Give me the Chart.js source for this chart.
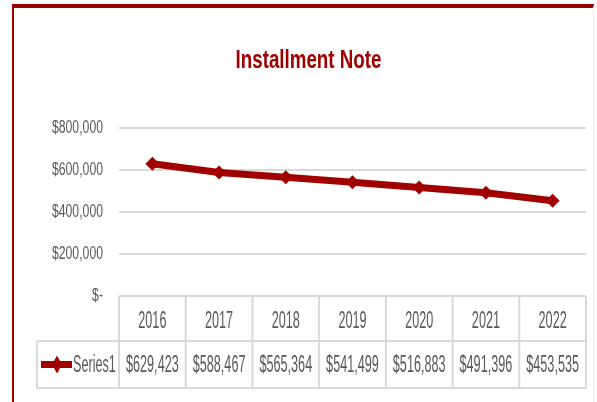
<!DOCTYPE html>
<html>
<head>
<meta charset="utf-8">
<script src="https://cdn.jsdelivr.net/npm/chart.js@4.4.1/dist/chart.umd.min.js"></script>
<style>
  html, body { margin: 0; padding: 0; background: #fff; }
  #wrap { position: relative; width: 597px; height: 402px; overflow: hidden; }
  #frame {
    position: absolute; left: 12px; top: 4px; width: 582px; height: 400px;
    border-top: 4px solid #9b0000; border-left: 2px solid #a00000;
    border-right: 1px solid #eeeeee;
    box-sizing: border-box; pointer-events: none;
  }
  canvas { position: absolute; left: 0; top: 0; }
</style>
</head>
<body>
<div id="wrap">
  <canvas id="noteChart" width="597" height="402"></canvas>
  <div id="frame"></div>
</div>
<script>
const years = ['2016', '2017', '2018', '2019', '2020', '2021', '2022'];
const balances = [629423, 588467, 565364, 541499, 516883, 491396, 453535];
const seriesName = 'Series1';
const yTicks = [0, 200000, 400000, 600000, 800000];
const chartTitle = 'Installment Note';

const RED = '#a00000';
const GREY_TEXT = '#595959';
const GRID = '#d9d9d9';
const FONT = '"Liberation Sans", Arial, sans-serif';

const money = v => v === 0 ? '$-' : '$' + v.toLocaleString('en-US');

// narrow text: Liberation Sans squeezed horizontally
function narrowText(ctx, text, x, y, sx, align) {
    ctx.save();
    ctx.translate(x, y);
    ctx.scale(sx, 1);
    ctx.textAlign = align;
    ctx.fillText(text, 0, 0);
    ctx.restore();
}

// title, y labels and the data table under the plot
const dataTable = {
    id: 'dataTable',
    afterDraw(chart) {
        const { ctx, chartArea, scales: { x, y } } = chart;
        const colW = x.getPixelForValue(1) - x.getPixelForValue(0);
        const top = chartArea.bottom;
        const mid = top + 45;
        const bottom = top + 92;
        const tableLeft = 37;

        ctx.save();
        ctx.textBaseline = 'alphabetic';

        // title
        ctx.fillStyle = RED;
        ctx.font = 'bold 25px ' + FONT;
        narrowText(ctx, chartTitle, (chartArea.left + chartArea.right) / 2 - 44, 68, 0.75, 'center');

        // y labels
        ctx.fillStyle = GREY_TEXT;
        ctx.font = '18px ' + FONT;
        y.ticks.forEach(t => {
            narrowText(ctx, money(t.value), 103, y.getPixelForValue(t.value) + 5, 0.68, 'right');
        });

        // grid of the table
        ctx.strokeStyle = GRID;
        ctx.lineWidth = 2;
        ctx.beginPath();
        ctx.moveTo(chartArea.left, top); ctx.lineTo(chartArea.right, top);
        ctx.moveTo(tableLeft, mid); ctx.lineTo(chartArea.right, mid);
        ctx.moveTo(tableLeft, bottom); ctx.lineTo(chartArea.right, bottom);
        ctx.moveTo(tableLeft, mid); ctx.lineTo(tableLeft, bottom);
        for (let i = 0; i <= years.length; i++) {
            const cx = x.getPixelForValue(0) - colW / 2 + i * colW;
            ctx.moveTo(cx, top); ctx.lineTo(cx, bottom);
        }
        ctx.stroke();

        ctx.fillStyle = GREY_TEXT;
        ctx.font = '23px ' + FONT;
        years.forEach((yr, i) => {
            const cx = x.getPixelForValue(i);
            narrowText(ctx, yr, cx, top + 32, 0.55, 'center');
            narrowText(ctx, money(balances[i]), cx, mid + 31, 0.55, 'center');
        });

        // legend key: line with diamond marker
        const ky = (mid + bottom) / 2;
        ctx.strokeStyle = RED;
        ctx.lineWidth = 7;
        ctx.beginPath();
        ctx.moveTo(41, ky); ctx.lineTo(72, ky);
        ctx.stroke();
        ctx.fillStyle = RED;
        ctx.beginPath();
        ctx.moveTo(57, ky - 9); ctx.lineTo(62, ky); ctx.lineTo(57, ky + 9); ctx.lineTo(52, ky);
        ctx.closePath();
        ctx.fill();

        ctx.fillStyle = GREY_TEXT;
        narrowText(ctx, seriesName, 73, mid + 31, 0.55, 'left');
        ctx.restore();
    }
};

new Chart(document.getElementById('noteChart'), {
    type: 'line',
    data: {
        labels: years,
        datasets: [{
            label: seriesName,
            data: balances,
            borderColor: RED,
            backgroundColor: RED,
            borderWidth: 7,
            pointStyle: 'rectRot',
            pointRadius: 7,
            pointBorderWidth: 0,
            tension: 0
        }]
    },
    options: {
        responsive: false,
        animation: false,
        layout: { padding: { left: 0, right: 11, top: 128, bottom: 106 } },
        plugins: {
            legend: { display: false },
            tooltip: { enabled: false },
            title: { display: false }
        },
        scales: {
            x: { display: false, offset: true },
            y: {
                min: 0,
                max: 800000,
                afterFit: s => { s.width = 119; },
                afterBuildTicks: s => { s.ticks = yTicks.map(v => ({ value: v })); },
                border: { display: false },
                grid: { color: GRID, lineWidth: 2, drawTicks: false },
                ticks: { display: false }
            }
        }
    },
    plugins: [dataTable]
});
</script>
</body>
</html>
